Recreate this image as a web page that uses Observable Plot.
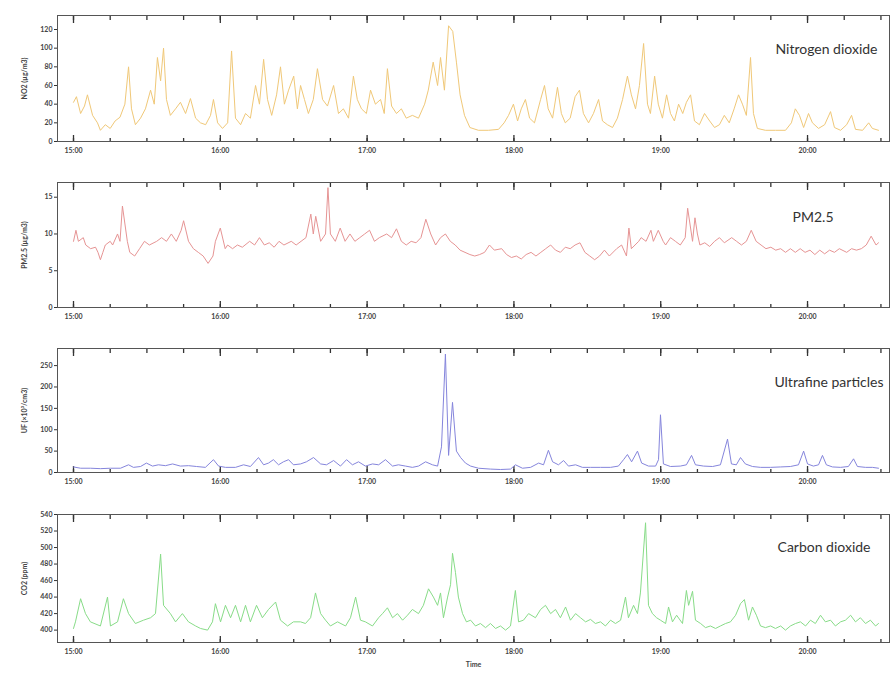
<!DOCTYPE html>
<html><head><meta charset="utf-8">
<script src="https://cdn.jsdelivr.net/npm/d3@7"></script>
<script src="https://cdn.jsdelivr.net/npm/@observablehq/plot@0.6"></script>
<style>body{margin:0;background:#fff;font-family:Lato,sans-serif} #chart svg{display:block}</style>
</head><body><div id="chart"></div>
<script>
// Readings: [minutes after 15:00, value]
const no2Readings = [[0,42],[1.2,48],[2.9,30],[4.5,38],[5.7,50],[7.8,28],[9.8,20],[11,12],[13,18],[15,14],[17,22],[19,26],[21,40],[22.5,80],[23.7,35],[25.3,18],[27.4,25],[29.4,35],[31.5,55],[33,40],[34.3,90],[35.6,65],[36.8,100],[38,45],[39.6,28],[41.7,35],[43.7,42],[45.8,30],[47.8,46],[49.9,25],[51.9,20],[54,18],[56,28],[57.2,45],[58.9,20],[60.9,14],[63,20],[64.6,97],[66.2,25],[68.3,18],[70.3,30],[72.3,25],[74.4,60],[76,40],[77.7,88],[79.3,45],[81,28],[83,50],[84.6,80],[86.2,40],[87.9,55],[90,70],[91.5,35],[92.8,60],[94.4,45],[96,30],[98,45],[99.7,78],[101.8,45],[103.8,38],[106.3,60],[108.3,30],[110.3,35],[112.4,25],[114.4,70],[116,45],[117.7,35],[119.7,30],[121.4,55],[123.4,40],[125.5,45],[127,30],[128.3,78],[130,38],[132,30],[134,35],[136,25],[138.5,28],[141,25],[143.5,40],[145,55],[147,85],[148.8,60],[150,90],[151.6,55],[153.3,124],[155,118],[156.5,85],[158,50],[159.8,28],[162,15],[165.5,12],[169.6,12],[173.7,13],[176,20],[177.8,28],[179.8,40],[181.5,22],[183,35],[184.7,45],[186.4,25],[188.4,20],[190.9,45],[192.5,60],[194,35],[195.8,25],[197.8,58],[199.4,30],[201,20],[203,25],[205,48],[206.8,55],[208.4,30],[210.5,20],[212.5,30],[214.6,45],[216.2,22],[218.2,18],[220.3,15],[222.3,25],[224.4,45],[226.4,70],[228,50],[229.7,35],[231.3,60],[233,105],[234.6,40],[235.8,30],[237.5,70],[239,40],[240.7,25],[242.4,50],[244,30],[245.6,22],[247.3,40],[249,30],[250.5,42],[252.2,50],[253.8,22],[255.8,18],[257.9,30],[260,22],[262,15],[264,18],[266,28],[268,20],[270,35],[271.8,50],[273.4,40],[275,28],[276.7,90],[277.9,30],[279.5,14],[282.8,12],[286.9,12],[291,12],[293.4,20],[295,35],[296.7,28],[298.4,15],[300.4,30],[302,20],[304.5,14],[307,18],[309.4,32],[311,15],[313.5,12],[316,18],[318,28],[319.6,13],[322.5,12],[325,20],[326.5,14],[329,12]];

const pm25Readings = [[0,9],[1,10.5],[2,9],[4,9.5],[5,8.5],[7,8],[9,8.2],[10,7.5],[11,6.5],[12,7.5],[13,8.5],[15,9],[16,8.5],[18,10],[19,9],[20,13.8],[22,9],[23,7.5],[25,7],[27,8],[29,9],[31,8.5],[34,9],[36,9.5],[38,9],[40,10],[42,9],[44,10.5],[45,11.8],[47,9],[49,8],[51,7.5],[53,7],[55,6],[57,7],[58,9],[60,10.8],[62,8],[63,8.5],[65,8],[67,8.5],[69,8.2],[72,9],[74,8.5],[76,9.5],[78,8.5],[80,8.8],[82,8.2],[84,9],[86,8.5],[89,9],[91,8.5],[93,9],[95,9.5],[97,12.7],[98,10],[99,12.4],[101,9],[103,10],[104,16.3],[105,10],[107,9],[109,10.8],[111,9],[113,10],[115,9],[117,9.5],[119,10],[121,10.5],[123,9],[125,9.5],[128,10],[130,9.5],[132,10.7],[134,9],[136,8.5],[138,9],[140,8.8],[142,9.5],[144,12],[146,10],[148,8.5],[150,9.5],[152,10],[154,9],[156,8.5],[158,7.8],[160,7.5],[162,7.2],[164,7],[166,7.2],[168,7.5],[170,8.5],[172,7.8],[175,8],[177,7.2],[179,6.8],[181,7],[183,6.6],[185,7.2],[187,7.5],[189,7],[191,7.5],[193,8],[195,8.5],[197,7.8],[199,7.5],[201,8.2],[203,8],[205,8.5],[207,8.8],[209,7.5],[211,7],[213,6.5],[215,7],[217,7.8],[219,7],[222,8],[224,8.5],[226,7],[227,10.8],[228,8],[231,9],[232,9.5],[234,9],[236,10.5],[237,9],[239,10.5],[241,9],[242,8.5],[244,9.5],[246,9],[248,8.5],[250,9.5],[251,13.5],[253,9],[254,12.2],[255,10],[256,8.5],[258,8.8],[260,8.3],[262,9],[264,9.5],[266,8.8],[269,9.5],[271,9],[273,8.5],[275,9],[277,10.5],[279,9],[281,8.5],[283,8],[285,8.2],[287,7.8],[289,8],[291,7.5],[293,8],[295,7.5],[297,8],[299,7.5],[301,7.8],[303,7.2],[305,7.8],[307,7.3],[309,7.8],[311,7.5],[313,8],[316,7.5],[318,8],[320,7.8],[322,8],[324,8.5],[326,9.7],[328,8.5],[329,8.8]];

const ufReadings = [[0,13],[2.9,10],[6.9,10],[11,9],[15.1,10],[19.2,10],[22.5,18],[24.5,12],[27.4,14],[29.8,22],[32.3,15],[34.7,18],[37.6,16],[40.5,20],[43.7,15],[47,16],[50.3,14],[53.9,12],[57.2,30],[59.3,15],[62.1,12],[66.2,12],[69.5,18],[72.3,14],[75.6,35],[77.7,18],[79.7,22],[81.7,30],[83.8,18],[85.8,25],[87.9,30],[89.9,18],[92.8,20],[95.2,25],[98.1,35],[101,20],[103.4,18],[106.3,28],[109.1,15],[111.6,30],[114,18],[116.5,25],[119.3,15],[122.2,20],[124.7,18],[127.5,30],[130.4,15],[132.8,18],[135.7,15],[138.5,12],[141,15],[143.9,25],[146.7,18],[148.8,15],[150.4,60],[152,277],[153.3,40],[154.9,164],[156.5,50],[158.2,35],[160.2,22],[162.3,15],[165.5,10],[170.4,8],[174.5,7],[178.6,8],[180.6,18],[183.5,10],[186.8,12],[190.1,22],[192.1,18],[194.1,52],[195.8,25],[198.2,18],[200.3,28],[202.3,15],[205.2,18],[208,12],[211.3,12],[215.4,12],[219.5,12],[222.7,15],[224.8,30],[226.4,42],[228.1,25],[230.5,50],[232.2,22],[235,15],[237.9,15],[239.1,30],[239.9,135],[241.1,20],[244,14],[248,15],[250.5,18],[252.6,40],[254.2,18],[257.5,15],[261.2,14],[264.4,18],[267.3,78],[268.9,20],[270.9,18],[272.6,35],[274.6,20],[277.5,14],[280.8,12],[284.9,12],[289,13],[293,14],[296.3,18],[298.4,50],[300,20],[302.4,15],[304.5,18],[306.1,40],[307.7,18],[310.2,13],[313.5,12],[316.7,14],[318.8,32],[320.4,14],[323.7,12],[326.5,12],[329,10]];

const co2Readings = [[0,402],[0.8,410],[2.9,438],[4.9,420],[6.9,410],[11,405],[13.9,440],[15.1,405],[18,410],[20.4,438],[22.5,420],[25.3,408],[28.6,412],[31.5,415],[33.5,420],[35.6,492],[36.8,430],[39.6,420],[41.7,410],[44.5,420],[47,410],[49.9,405],[51.9,402],[54.8,400],[56.8,410],[58,432],[60.1,410],[62.1,430],[64.2,415],[66.2,430],[68.3,410],[70.3,430],[72.3,410],[74.8,430],[77.2,415],[79.7,425],[82.6,434],[84.6,412],[87.5,405],[89.9,410],[92.8,410],[94.8,408],[96.9,415],[98.9,445],[101,420],[103,412],[105,405],[107.9,410],[111.2,405],[113.2,415],[115.3,440],[117.3,412],[119.3,410],[122.2,405],[124.7,415],[126.3,420],[128.3,427],[130.4,415],[132.4,420],[134.5,412],[136.5,418],[138.5,425],[141,420],[143,430],[145.1,450],[147.1,440],[148.8,430],[150,445],[151.2,415],[152.9,440],[154.1,455],[154.9,493],[156.1,470],[157.3,440],[159,420],[160.6,410],[162.3,412],[164.3,405],[166.3,408],[168.4,403],[170.4,408],[172.5,402],[174.5,405],[176.6,400],[178.6,405],[180.6,448],[181.9,410],[183.9,412],[186,420],[188.8,415],[190.9,425],[192.9,430],[195,420],[197,425],[199,415],[201.1,428],[203.1,412],[205.2,420],[207.2,415],[209.3,410],[211.3,413],[213.3,408],[215.4,410],[217.4,405],[219.5,412],[221.5,408],[223.6,412],[225.6,440],[226.8,415],[228.9,430],[230.5,420],[231.7,445],[233.8,530],[235,430],[236.6,420],[238.3,415],[239.9,412],[242,408],[243.2,428],[244.8,410],[246.5,418],[248.9,408],[250.5,448],[251.4,430],[253,447],[254.2,412],[256.3,408],[258.3,403],[260.3,405],[262.4,402],[264.4,405],[266.5,408],[268.5,410],[270.6,418],[272.6,432],[274.2,437],[275.9,412],[277.5,428],[279.1,418],[280.8,405],[282.8,403],[284.9,405],[286.9,402],[289,405],[291,400],[293,405],[295.1,408],[297.1,410],[299.2,405],[301.2,412],[303.2,408],[305.3,418],[307.3,410],[309.4,412],[311.4,405],[313.5,410],[315.5,412],[317.6,418],[319.6,410],[321.6,415],[323.7,408],[325.7,412],[327.8,405],[329,408]];

const no2Ticks = [0,20,40,60,80,100,120];
const pm25Ticks = [0,5,10,15];
const ufTicks = [0,50,100,150,200,250];
const co2Ticks = [400,420,440,460,480,500,520,540];
const panelNames = ["Nitrogen dioxide","PM2.5","Ultrafine particles","Carbon dioxide"];
const axisLabels = ["NO2 (µg/m3)","PM2.5 (µg/m3)","UF (×10³/cm3)","CO2 (ppm)"];

const base = Date.UTC(2016, 5, 1, 15, 0, 0);
const toDate = m => new Date(base + m * 60000);
const xStart = toDate(-6.54), xEnd = toDate(333.5);
const majorTicks = d3.utcHour.range(toDate(0), toDate(301));
const minorTicks = d3.utcMinute.every(15).range(xStart, xEnd);

function panel(cfg) {
  const innerH = cfg.height - cfg.marginTop - cfg.marginBottom;
  const [lo, hi] = cfg.yDomain;
  const perPx = (hi - lo) / innerH; // data units per pixel, for tick lengths
  const data = cfg.readings.map(([m, v]) => ({time: toDate(m), value: v}));
  const tickStyle = {stroke: "#333", strokeWidth: 1.3};
  return Plot.plot({
    width: 891, height: cfg.height,
    marginTop: cfg.marginTop, marginBottom: cfg.marginBottom, marginLeft: 57, marginRight: 2,
    style: {fontFamily: "Lato, sans-serif", background: "white", color: "#333"},
    x: {type: "utc", domain: [xStart, xEnd]},
    y: {domain: cfg.yDomain},
    marks: [
      Plot.ruleX(minorTicks, {x: d => d, y1: hi, y2: hi - 5 * perPx, ...tickStyle}),
      Plot.ruleX(majorTicks, {x: d => d, y1: hi, y2: hi - 8 * perPx, ...tickStyle}),
      Plot.ruleX(minorTicks, {x: d => d, y1: lo, y2: lo + 3 * perPx, ...tickStyle}),
      Plot.ruleX(majorTicks, {x: d => d, y1: lo, y2: lo + 6 * perPx, ...tickStyle}),
      Plot.lineY(data, {x: "time", y: "value", stroke: cfg.color, strokeWidth: 1}),
      Plot.frame({stroke: "#555"}),
      Plot.axisX({ticks: majorTicks, tickFormat: d3.utcFormat("%H:%M"), tickSize: 0, tickPadding: 7,
        fontSize: 7, fontWeight: "bold", fill: "#444",
        label: cfg.xLabel || null, labelAnchor: "center", labelOffset: 24, labelArrow: "none"}),
      Plot.axisY({ticks: cfg.yTicks, tickSize: 3, tickPadding: 2, fontSize: 7, fontWeight: "bold", fill: "#444",
        label: cfg.yLabel, labelAnchor: "center", labelOffset: 35, labelArrow: "none"}),
      Plot.text([cfg.name], {frameAnchor: "top-right", dx: cfg.dx, dy: cfg.dy, fontSize: 14, fill: "#333"})
    ]
  });
}

const chart = document.getElementById("chart");
chart.append(panel({readings: no2Readings, color: "#f0c878", yDomain: [0, 135], yTicks: no2Ticks,
  yLabel: axisLabels[0], name: panelNames[0], height: 166, marginTop: 15, marginBottom: 25, dx: -12, dy: 29}));
chart.append(panel({readings: pm25Readings, color: "#e69494", yDomain: [0, 17], yTicks: pm25Ticks,
  yLabel: axisLabels[1], name: panelNames[1], height: 166, marginTop: 16, marginBottom: 25, dx: -56, dy: 30}));
chart.append(panel({readings: ufReadings, color: "#8585dc", yDomain: [0, 290], yTicks: ufTicks,
  yLabel: axisLabels[2], name: panelNames[2], height: 166, marginTop: 16, marginBottom: 26, dx: -6, dy: 29}));
chart.append(panel({readings: co2Readings, color: "#88dc88", yDomain: [385, 540], yTicks: co2Ticks,
  yLabel: axisLabels[3], name: panelNames[3], height: 175, marginTop: 16, marginBottom: 31, dx: -19, dy: 28, xLabel: "Time"}));
</script></body></html>
